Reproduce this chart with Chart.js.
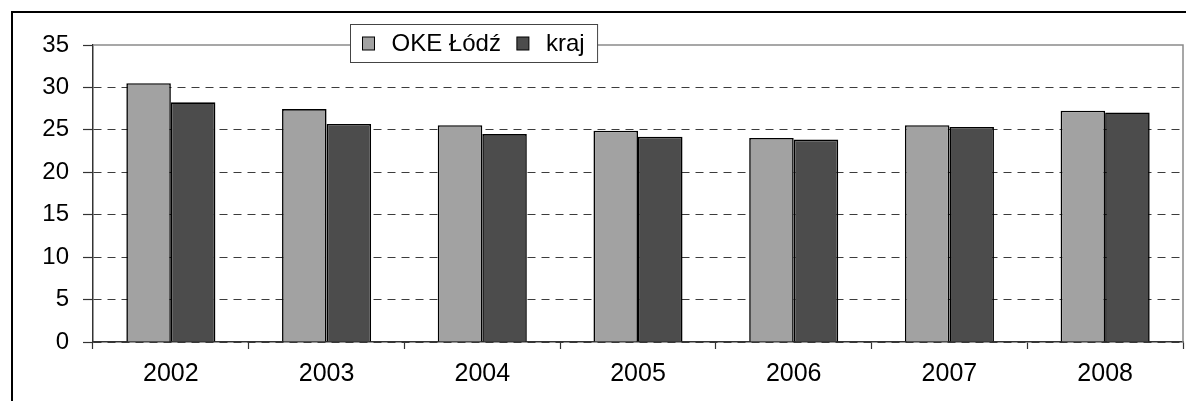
<!DOCTYPE html>
<html><head><meta charset="utf-8">
<script src="https://cdn.jsdelivr.net/npm/chart.js@4"></script>
<style>html,body{margin:0;padding:0;background:#fff}#wrap{width:1186px;height:401px;position:relative}</style>
</head><body><div id="wrap"><canvas id="c" width="1186" height="401"></canvas></div>
<script>
const categories = ['2002', '2003', '2004', '2005', '2006', '2007', '2008'];
const okeLodz = [30.5, 27.45, 25.55, 24.9, 24.05, 25.55, 27.25];
const kraj = [28.25, 25.7, 24.5, 24.2, 23.85, 25.35, 27.05];
const seriesNames = ['OKE Łódź', 'kraj'];
const yMin = 0, yMax = 35, yStep = 5;

const FONT = '"Liberation Sans", Arial, sans-serif';

const framePlugin = {
  id: 'frames',
  beforeDraw(chart) {
    const ctx = chart.ctx;
    ctx.save();
    ctx.strokeStyle = '#000';
    ctx.lineWidth = 2;
    ctx.beginPath();
    ctx.moveTo(12, chart.height + 5);
    ctx.lineTo(12, 12);
    ctx.lineTo(chart.width + 5, 12);
    ctx.stroke();
    ctx.restore();
  },
  beforeDatasetsDraw(chart) {
    const ctx = chart.ctx, a = chart.chartArea;
    ctx.save();
    ctx.strokeStyle = '#8a8a8a';
    ctx.lineWidth = 1.5;
    ctx.beginPath();
    ctx.moveTo(a.left, a.top);
    ctx.lineTo(a.right, a.top);
    ctx.lineTo(a.right, a.bottom);
    ctx.stroke();
    ctx.restore();
  },
  afterDraw(chart) {
    const ctx = chart.ctx;
    const ds = chart.data.datasets;
    ctx.save();
    ctx.font = '24px ' + FONT;
    const sw = 12, sh = 13, gapSwText = 17, gapItem = 16, padL = 12, padR = 13;
    let w = padL;
    ds.forEach((d, i) => {
      w += sw + gapSwText + ctx.measureText(d.label).width;
      if (i < ds.length - 1) w += gapItem;
    });
    w += padR;
    const cx = 474, top = 24, h = 38;
    const left = Math.round(cx - w / 2) + 0.5;
    ctx.fillStyle = '#fff';
    ctx.fillRect(left, top + 0.5, w, h);
    ctx.strokeStyle = '#444';
    ctx.lineWidth = 1;
    ctx.strokeRect(left, top + 0.5, w, h);
    let x = left + padL;
    ds.forEach((d, i) => {
      ctx.fillStyle = d.backgroundColor;
      ctx.fillRect(x, top + 13, sw, sh);
      ctx.strokeStyle = '#000';
      ctx.lineWidth = 1;
      ctx.strokeRect(x, top + 13, sw, sh);
      x += sw + gapSwText;
      ctx.fillStyle = '#000';
      ctx.textBaseline = 'alphabetic';
      ctx.textAlign = 'left';
      ctx.fillText(d.label, x, top + 27);
      x += ctx.measureText(d.label).width + gapItem;
    });
    ctx.restore();
  }
};

new Chart(document.getElementById('c'), {
  type: 'bar',
  data: {
    labels: categories,
    datasets: [
      { label: seriesNames[0], data: okeLodz, backgroundColor: '#a2a2a2', borderColor: '#000', borderWidth: 1.6, borderSkipped: 'bottom', categoryPercentage: 0.572, barPercentage: 1.0 },
      { label: seriesNames[1], data: kraj, backgroundColor: '#4c4c4c', borderColor: '#000', borderWidth: 1.6, borderSkipped: 'bottom', categoryPercentage: 0.572, barPercentage: 1.0 }
    ]
  },
  options: {
    responsive: false,
    devicePixelRatio: 1,
    animation: false,
    layout: { padding: { top: 45, right: 3, left: 0, bottom: 0 } },
    plugins: { legend: { display: false }, tooltip: { enabled: false } },
    scales: {
      x: {
        offset: true,
        grid: { display: true, offset: true, drawOnChartArea: false, drawTicks: true, tickLength: 7, tickColor: '#333', tickWidth: 1.2 },
        border: { display: true, color: '#333', width: 1.5 },
        ticks: { color: '#000', font: { family: FONT, size: 25 }, padding: 10, maxRotation: 0 },
        afterFit(scale) { scale.height = 59; }
      },
      y: {
        min: yMin, max: yMax,
        grid: {
          color: (c) => (c.tick && c.tick.value === yMax) ? 'rgba(0,0,0,0)' : '#3c3c3c',
          lineWidth: 1, tickLength: 10, tickColor: '#333', tickWidth: 1.2
        },
        border: { display: true, color: '#333', width: 1.5, dash: [8, 6] },
        ticks: { stepSize: yStep, color: '#000', font: { family: FONT, size: 24 }, padding: 14 },
        afterFit(scale) { scale.width = 93; }
      }
    }
  },
  plugins: [framePlugin]
});
</script></body></html>
